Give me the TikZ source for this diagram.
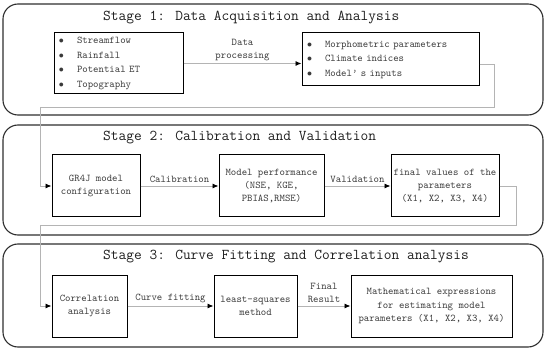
\documentclass[tikz,border=0pt]{standalone}
\usepackage{xcolor}
\definecolor{Ink}{HTML}{1E1E1E}
\definecolor{Soft}{HTML}{3A3A3A}
\definecolor{Wire}{HTML}{B4B4B4}
\definecolor{Frame}{HTML}{2E2E2E}
\usepackage{tikz}
\usetikzlibrary{arrows.meta,positioning}
\newcommand{\bul}{\makebox[18pt][l]{$\bullet$}}
\tikzset{
  panel/.style={draw=Frame,line width=1.1pt,rounded corners=15pt,minimum width=540pt,inner sep=0pt},
  heading/.style={anchor=west,font=\fontsize{15}{18}\selectfont\ttfamily,text=Ink,inner sep=0pt},
  box/.style={draw=black,line width=1pt,minimum height=62pt,align=center,text=Soft,
    font=\fontsize{10.3}{13.3}\selectfont\ttfamily,inner sep=2pt},
  listbox/.style={box,align=left,inner xsep=5pt,font=\fontsize{10.3}{14.5}\selectfont\ttfamily},
  link/.style={draw=Wire,line width=.9pt,-{Latex[length=6pt,width=5pt,color=black]}},
  lab/.style={font=\fontsize{10.3}{13.3}\selectfont\ttfamily,text=Soft,align=center,inner sep=1pt}
}

\begin{document}
\begin{tikzpicture}[x=1pt,y=-1pt]
\useasboundingbox (0,0) rectangle (550,353);
% the three stages
\node[panel,minimum height=111pt] (s1) at (273,59.5) {};
\node[panel,minimum height=110pt] (s2) at (273,180) {};
\node[panel,minimum height=103pt] (s3) at (273,295.5) {};
\node[heading] (h1) at (103,18) {Stage 1: Data Acquisition and Analysis};
\node[heading] (h2) at (103,138) {Stage 2: Calibration and Validation};
\node[heading] (h3) at (103,257) {Stage 3: Curve Fitting and Correlation analysis};

% stage 1
\node[listbox,text width=119pt,minimum height=61pt] (in) at (118.5,63.5)
  {\bul Streamflow\\\bul Rainfall\\\bul Potential ET\\\bul Topography};
\node[listbox,text width=167pt,minimum height=53pt,right=118pt of in,yshift=4pt] (out)
  {\bul Morphometric parameters\\\bul Climate indices\\\bul Model\textquoteright\ s inputs};

% stage 2
\node[box,minimum width=88pt] (gr) at (96,186) {GR4J model\\configuration};
\node[box,minimum width=105pt,right=78pt of gr] (perf) {Model performance\\(NSE, KGE,\\PBIAS,RMSE)};
\node[box,minimum width=108pt,right=66pt of perf] (fin) {final values of the\\parameters\\(X1, X2, X3, X4)};

% stage 3
\node[box,minimum width=75pt] (corr) at (89.5,306) {Correlation\\analysis};
\node[box,minimum width=83pt,right=86pt of corr] (lsq) {least-squares\\method};
\node[box,minimum width=161pt,right=53pt of lsq] (expr)
  {Mathematical expressions\\for estimating model\\parameters (X1, X2, X3, X4)};

% connectors
\draw[link] (in.east) -- (in.east -| out.west) node[lab,midway,above=1pt] {Data\\processing};
\draw[link] (gr) -- node[lab,above=2pt] {Calibration} (perf);
\draw[link] (perf) -- node[lab,above=2pt] {Validation} (fin);
\draw[link] (corr) -- node[lab,above=2pt] {Curve fitting} (lsq);
\draw[link] (lsq) -- node[lab,above=2pt] {Final\\Result} (expr);
\coordinate (t1) at (40.7,107);
\coordinate (t2) at (40.7,225);
\draw[link] ([yshift=-4.5pt]out.east) -- ++(15,0) |- (t1) |- (gr.west);
\draw[link] (fin.east) -- ++(17,0) |- (t2) |- (corr.west);
\end{tikzpicture}
\end{document}
